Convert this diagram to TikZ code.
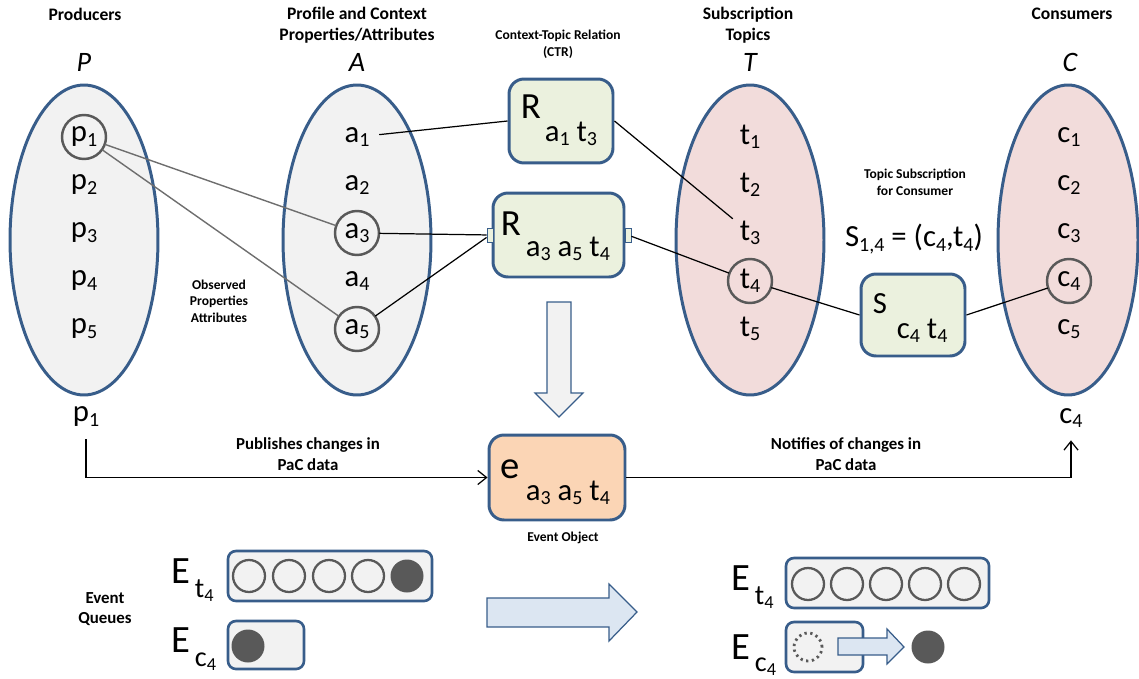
\documentclass[tikz,border=0pt]{standalone}
\usepackage{graphicx}
\usepackage{fontspec}
\setmainfont{Carlito}
\usetikzlibrary{shapes.geometric,arrows.meta}

\definecolor{setblue}{RGB}{56,93,138}
\definecolor{setgray}{HTML}{F2F2F2}
\definecolor{topicpink}{HTML}{F2DCDB}
\definecolor{boxgreen}{HTML}{EBF1DE}
\definecolor{eventpeach}{HTML}{FBD5B5}
\definecolor{arrowblue}{HTML}{DCE6F2}
\definecolor{ringgray}{HTML}{595959}
\definecolor{linegray}{HTML}{6E6E6E}

% lowered index, as in p_1
\newcommand{\ix}[1]{\raisebox{-0.3ex}{\scalebox{0.65}{#1}}}
\newcommand{\esub}{\fontsize{16}{18}\selectfont\,}

\begin{document}
\begin{tikzpicture}[x=0.02cm,y=-0.02cm, >={Straight Barb[length=5pt,width=8pt]}]
        \tikzstyle{every node} = [inner sep=0pt]
        \tikzstyle{set} = [ellipse, draw=setblue, line width=1.7pt, minimum width=2.96cm, minimum height=6.2cm]
        \tikzstyle{item} = [circle, minimum size=0.88cm, font=\fontsize{17.5}{20}\selectfont]
        \tikzstyle{ring} = [draw=ringgray, line width=1.4pt]
        \tikzstyle{box} = [rectangle, rounded corners=0.3cm, draw=setblue, line width=1.7pt, fill=boxgreen, minimum height=1.68cm]
        \tikzstyle{port} = [rectangle, draw=setblue, line width=0.5pt, fill=boxgreen, minimum width=0.12cm, minimum height=0.28cm]
        \tikzstyle{head} = [font=\bfseries\fontsize{10}{12}\selectfont, align=center]
        \tikzstyle{note} = [font=\bfseries\fontsize{7.7}{9.5}\selectfont, align=center]
        \tikzstyle{flowtext} = [font=\bfseries\fontsize{9.6}{11.8}\selectfont, align=center]
        \tikzstyle{setname} = [font=\itshape\fontsize{16}{18}\selectfont]
        \tikzstyle{big} = [anchor=base west, font=\fontsize{21}{24}\selectfont]
        \tikzstyle{sub} = [anchor=base west, font=\fontsize{17.5}{20}\selectfont]
        \tikzstyle{elabel} = [anchor=base west, font=\fontsize{22}{24}\selectfont]
        \tikzstyle{link} = [draw=black, line width=0.7pt]
        \tikzstyle{obs} = [draw=linegray, line width=0.8pt]
        \tikzstyle{queue} = [draw=setblue, line width=1.5pt, fill=setgray, rounded corners=0.16cm]
        \tikzstyle{slot} = [draw=ringgray, line width=1.3pt]
        \tikzstyle{block} = [draw=setblue, line width=0.7pt]

        \useasboundingbox (0,0) rectangle (1139,679);

        % headings
        \node[head] (prodtxt) at (85,14) {Producers};
        \node[head, font=\bfseries\fontsize{10}{12.2}\selectfont] (proftxt) at (357,25) {Profile and Context\\Properties/Attributes};
        \node[note] (ctrtxt) at (558,44) {Context-Topic Relation\\(CTR)};
        \node[head, font=\bfseries\fontsize{10}{12.2}\selectfont] (subtxt) at (748,25) {Subscription\\Topics};
        \node[head] (constxt) at (1072,14) {Consumers};
        \node[setname] (Pname) at (84,62) {P};
        \node[setname] (Aname) at (357,62) {A};
        \node[setname] (Tname) at (750,62) {T};
        \node[setname] (Cname) at (1070,62) {C};

        % the four sets
        \node[set, fill=setgray] (P) at (84,240) {};
        \node[set, fill=setgray] (A) at (357,240) {};
        \node[set, fill=topicpink] (T) at (750,240) {};
        \node[set, fill=topicpink, minimum width=2.8cm] (C) at (1068,240) {};

        \foreach \s/\x in {p/84, a/357, t/750, c/1069}
            \foreach \i in {1,...,5}
                \node[item] (\s\i) at (\x, 89+48*\i) {\s\ix{\i}};

        \foreach \n in {p1,a3,a5,t4,c4}
            \draw[ring] (\n) circle (0.44cm);

        % relations and subscription
        \node[box, minimum width=2.08cm] (r1) at (561,121) {};
        \node[box, minimum width=2.62cm] (r2) at (558.5,235) {};
        \node[port] (pl) at (490,235) {};
        \node[port] (pr) at (628,235) {};
        \node[box, minimum width=2.08cm, minimum height=1.64cm] (s) at (913,315) {};
        \node[box, minimum width=2.72cm, minimum height=1.7cm, fill=eventpeach] (e) at (557,477.5) {};

        \node[big] (r1R) at ([shift={(13,41)}]r1.north west) {R};
        \node[sub] (r1sub) at ([shift={(37,64)}]r1.north west) {a\ix1 t\ix3};
        \node[big] (r2R) at ([shift={(9,44)}]r2.north west) {R};
        \node[sub] (r2sub) at ([shift={(34,65)}]r2.north west) {a\ix3 a\ix5 t\ix4};
        \node[big, font=\fontsize{17.5}{20}\selectfont] (sS) at ([shift={(13,41)}]s.north west) {S};
        \node[sub] (ssub) at ([shift={(37,66)}]s.north west) {c\ix4 t\ix4};
        \node[big, font=\fontsize{22}{24}\selectfont] (ee) at ([shift={(13,45)}]e.north west) {e};
        \node[sub] (esub) at ([shift={(38,67)}]e.north west) {a\ix3 a\ix5 t\ix4};

        \node[note] (obstxt) at (219,301) {Observed\\Properties\\Attributes};
        \node[note] (tstxt) at (915,182) {Topic Subscription\\for Consumer};
        \node[sub, anchor=center] (seq) at (914,239) {S\ix{1,4} = (c\ix4,t\ix4)};

        \draw[obs] (p1) -- (a3);
        \draw[obs] (p1) -- (a5);
        \draw[link] (a1) -- (r1.west);
        \draw[link] (a3) -- (pl);
        \draw[link] (a5) -- (pl);
        \draw[link] (r1.east) -- (t3);
        \draw[link] (pr) -- (t4);
        \draw[link] (t4) -- (s.west);
        \draw[link] (s.east) -- (c4);

        \draw[block, fill=setgray] (547,302) -- (571,302) -- (571,393) -- (583,393) -- (559,417) -- (535,393) -- (547,393) -- cycle;

        % publish / notify
        \node[item] (p1src) at (86,417) {p\ix1};
        \node[item] (c4dst) at (1071,418) {c\ix4};
        \draw[link, ->] (p1src) |- (e);
        \draw[link, ->] (e) -| (c4dst);
        \node[flowtext] (pubtxt) at (308,454) {Publishes changes in\\PaC data};
        \node[flowtext] (nottxt) at (846,454) {Notifies of changes in\\PaC data};
        \node[note] (evtxt) at (563,538) {Event Object};

        % event queues
        \node[flowtext] (queuetxt) at (105,609) {Event\\Queues};
        \node[elabel] (et4a) at (171,583) {E\raisebox{-8pt}{\esub t\ix4}};
        \node[elabel] (ec4a) at (171,652) {E\raisebox{-8pt}{\esub c\ix4}};
        \draw[queue] (228,551) rectangle (432,601);
        \foreach \x in {249,289,329,368}
            \draw[slot] (\x,576) circle (0.32cm);
        \fill[ringgray] (407,576) circle (0.33cm);
        \draw[queue] (228,621) rectangle (304,669);
        \fill[ringgray] (248,646) circle (0.33cm);

        \draw[block, fill=arrowblue] (487,598) -- (609,598) -- (609,584) -- (637,612) -- (609,641) -- (609,627) -- (487,627) -- cycle;

        \node[elabel] (et4b) at (731,590) {E\raisebox{-8pt}{\esub t\ix4}};
        \node[elabel] (ec4b) at (731,659) {E\raisebox{-7pt}{\esub c\ix4}};
        \draw[queue] (786,558) rectangle (989,608);
        \foreach \x in {808,847,886,925,964}
            \draw[slot] (\x,584) circle (0.32cm);
        \draw[queue] (786,622) rectangle (863,672);
        \draw[slot, dotted, line width=1.6pt] (808,647) circle (0.28cm);
        \draw[block, fill=arrowblue] (838,638) -- (887,638) -- (887,629) -- (904,647) -- (887,664) -- (887,655) -- (838,655) -- cycle;
        \fill[ringgray] (928,647) circle (0.33cm);
      \end{tikzpicture}
\end{document}
